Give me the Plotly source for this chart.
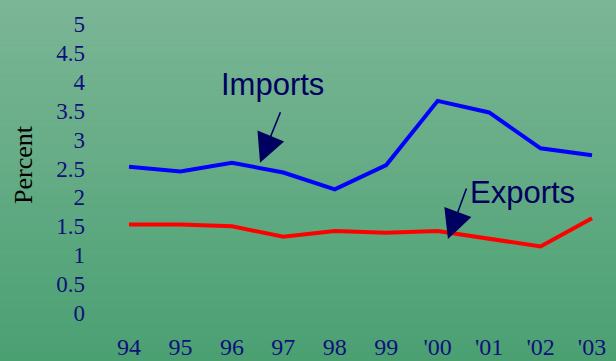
import plotly.graph_objects as go

# ---- data ----
years = ["94", "95", "96", "97", "98", "99", "'00", "'01", "'02", "'03"]
imports = [2.53, 2.45, 2.60, 2.43, 2.14, 2.56, 3.67, 3.47, 2.85, 2.73]
exports = [1.53, 1.53, 1.50, 1.32, 1.42, 1.39, 1.42, 1.29, 1.15, 1.64]
y_ticks = [0, 0.5, 1, 1.5, 2, 2.5, 3, 3.5, 4, 4.5, 5]
y_ticktext = ["0", "0.5", "1", "1.5", "2", "2.5", "3", "3.5", "4", "4.5", "5"]

W, H = 616, 361
ML, MR, MT, MB = 90, 10, 10, 41

xi = list(range(len(years)))

fig = go.Figure()
fig.add_trace(go.Scatter(x=xi, y=imports, mode="lines", name="Imports",
                         line=dict(color="#0000ff", width=4), showlegend=False))
fig.add_trace(go.Scatter(x=xi, y=exports, mode="lines", name="Exports",
                         line=dict(color="#ff0000", width=4), showlegend=False))

# ---- gradient background bands ----
top = (124, 182, 150)
bot = (74, 160, 114)
n = 48
pw = W - ML - MR
ph = H - MT - MB
shapes = []
for i in range(n):
    y0px = H * i / n
    y1px = H * (i + 1) / n + 0.5
    f = (i + 0.5) / n
    c = tuple(round(top[k] + (bot[k] - top[k]) * f) for k in range(3))
    shapes.append(dict(
        type="rect", xref="paper", yref="paper", layer="below",
        x0=-ML / pw - 0.01, x1=1 + MR / pw + 0.01,
        y0=(H - MB - y1px) / ph, y1=(H - MB - y0px) / ph,
        fillcolor="rgb(%d,%d,%d)" % c, line=dict(width=0)))

navy = "#10107a"
label_col = "#000060"
annotations = [
    dict(x=2.78, y=3.95, xref="x", yref="y", text="Imports", showarrow=False,
         font=dict(family="Liberation Sans, Arial", size=31, color=label_col),
         xanchor="center", yanchor="middle"),
    dict(x=2.547, y=2.60, ax=2.955, ay=3.50, xref="x", yref="y", axref="x", ayref="y",
         text="", showarrow=True, arrowhead=2, arrowsize=3.6, arrowwidth=1.6,
         arrowcolor=label_col),
    dict(x=7.64, y=2.09, xref="x", yref="y", text="Exports", showarrow=False,
         font=dict(family="Liberation Sans, Arial", size=31, color=label_col),
         xanchor="center", yanchor="middle"),
    dict(x=6.20, y=1.28, ax=6.57, ay=2.18, xref="x", yref="y", axref="x", ayref="y",
         text="", showarrow=True, arrowhead=2, arrowsize=3.6, arrowwidth=1.6,
         arrowcolor=label_col),
]

fig.update_layout(
    width=W, height=H,
    margin=dict(l=ML, r=MR, t=MT, b=MB, autoexpand=False),
    paper_bgcolor="rgb(74,160,114)",
    plot_bgcolor="rgba(0,0,0,0)",
    shapes=shapes,
    annotations=annotations,
    xaxis=dict(range=[-0.758, 9.272], tickvals=xi, ticktext=years, automargin=False,
               showgrid=False, zeroline=False, showline=False,
               tickfont=dict(family="Liberation Serif, Times New Roman", size=24, color=navy),
               ticklabelstandoff=10),
    yaxis=dict(range=[-0.121, 5.242], tickvals=y_ticks, ticktext=y_ticktext, automargin=False,
               showgrid=False, zeroline=False, showline=False,
               tickfont=dict(family="Liberation Serif, Times New Roman", size=23, color=navy),
               ticklabelstandoff=4,
               title=dict(text="Percent", standoff=16,
                          font=dict(family="Liberation Serif, Times New Roman", size=26, color="black"))),
)

fig.write_html("out.html")
